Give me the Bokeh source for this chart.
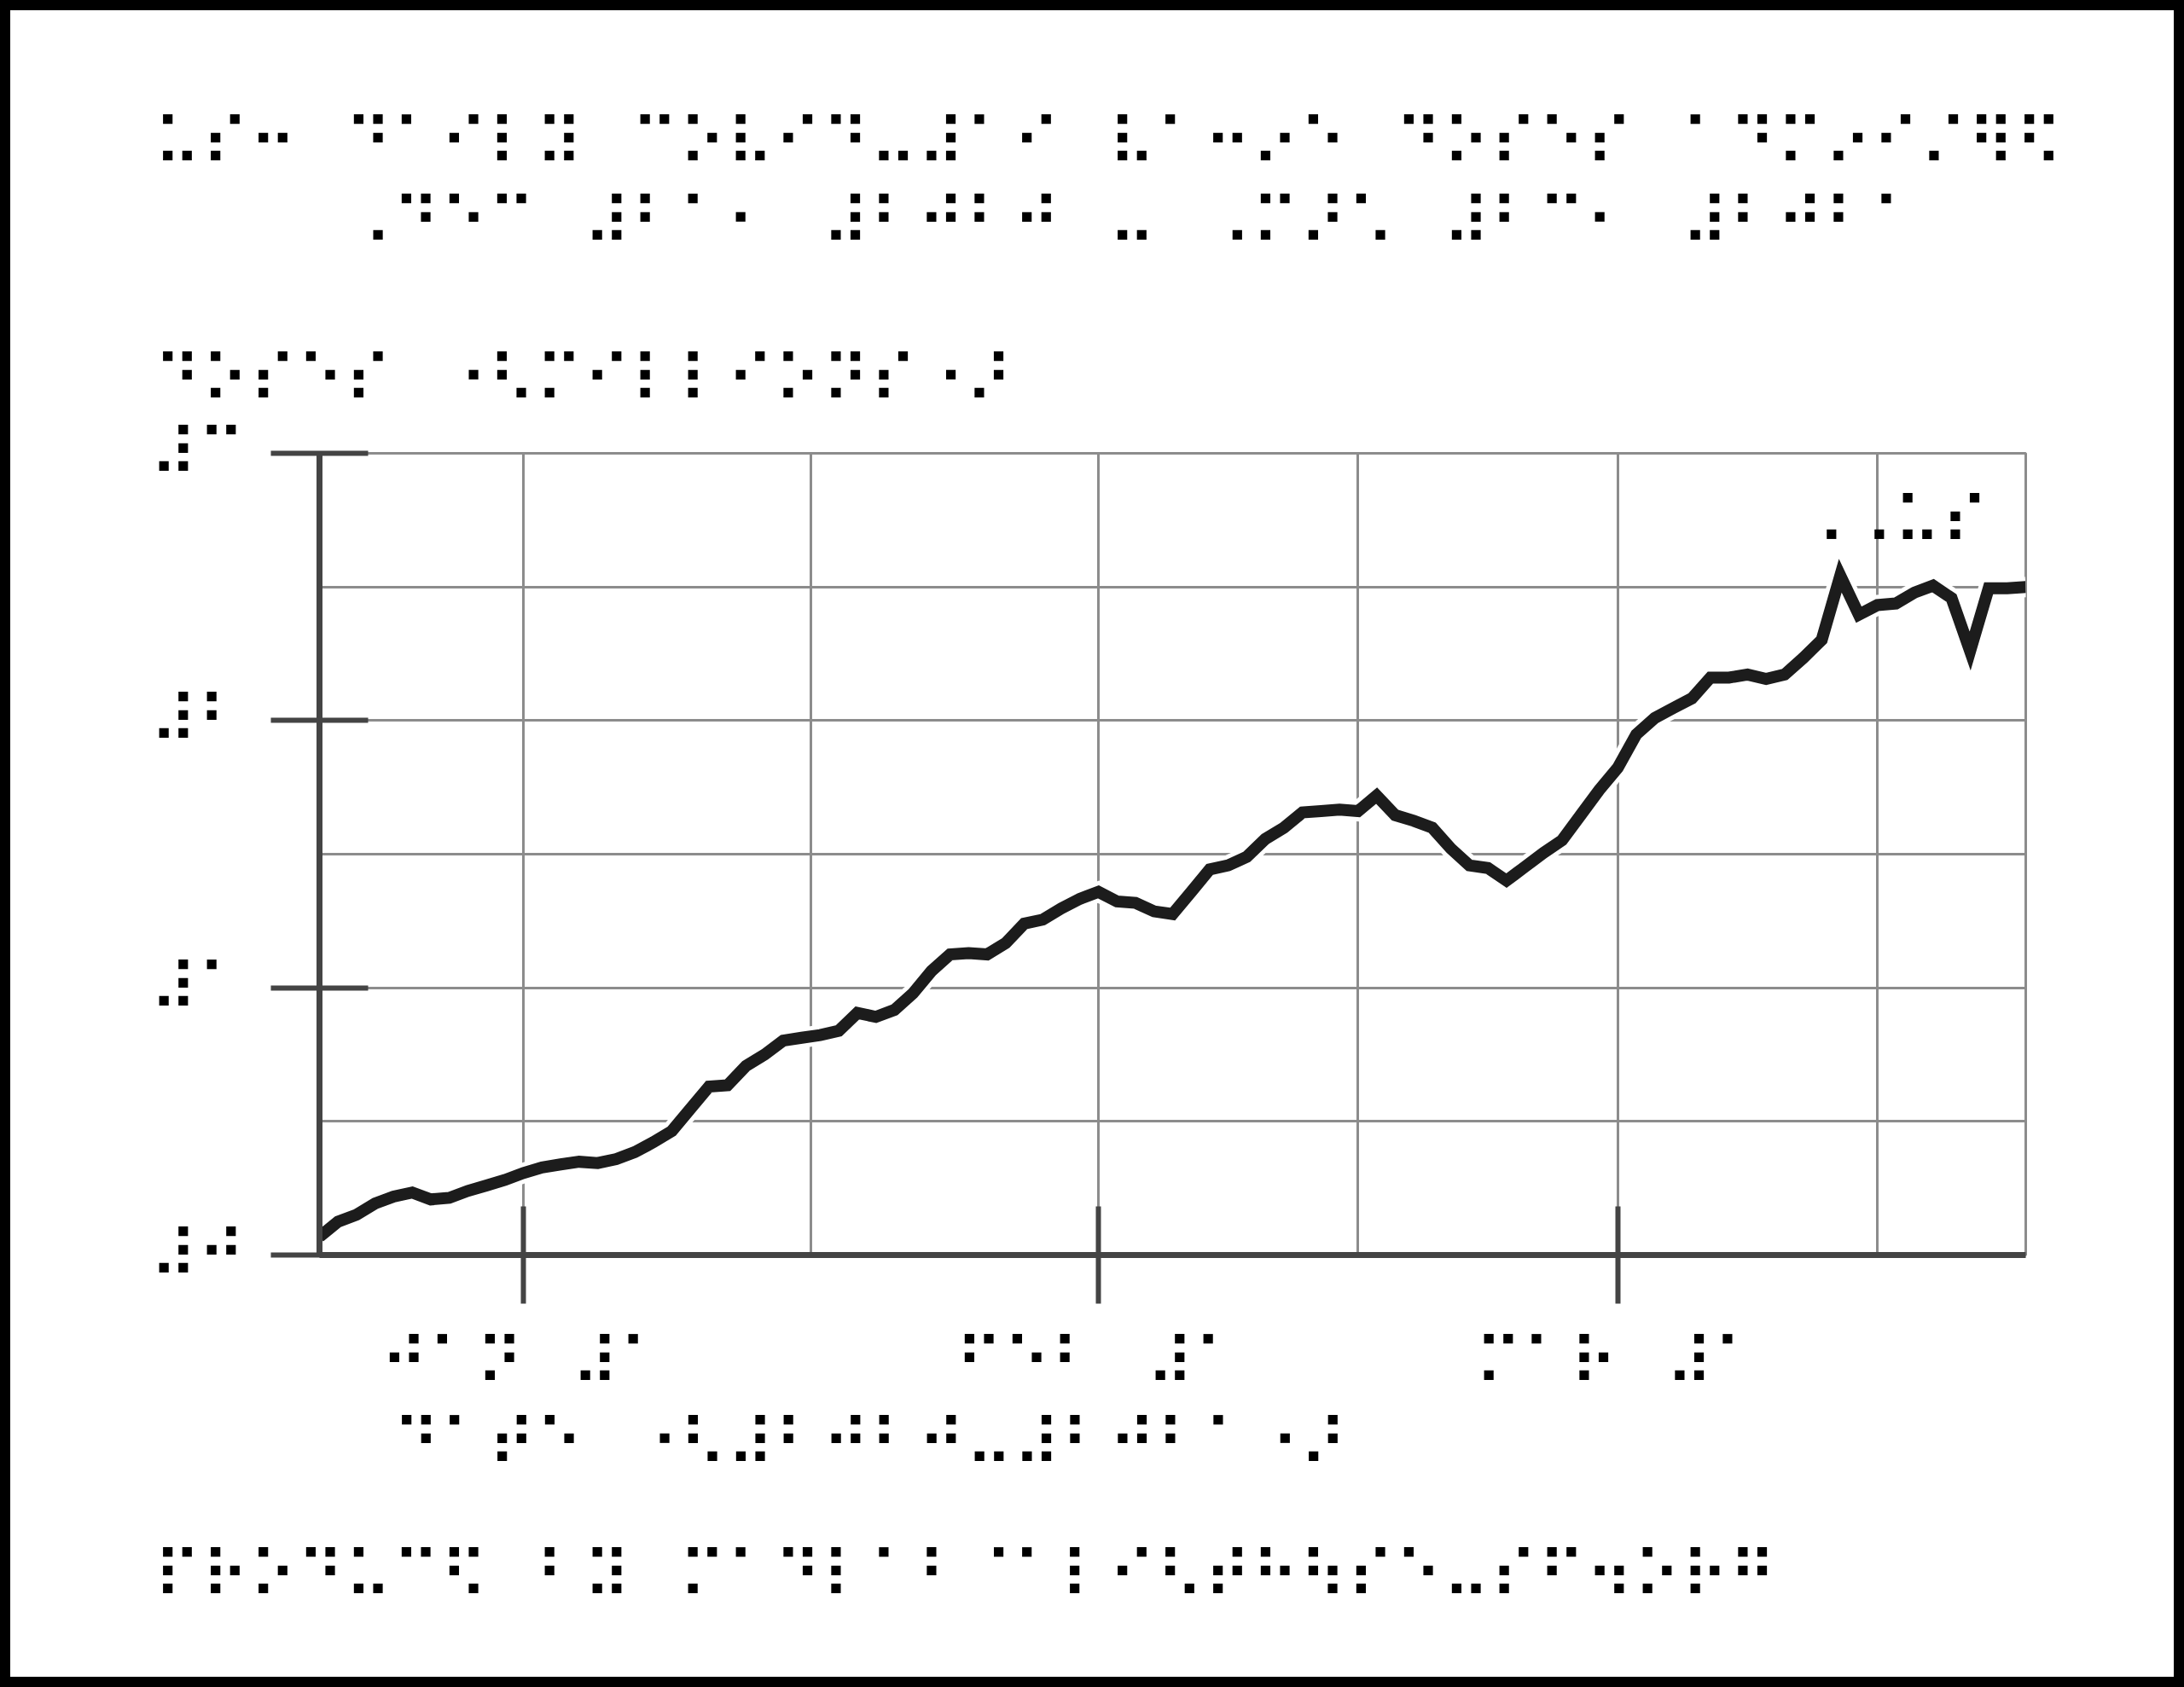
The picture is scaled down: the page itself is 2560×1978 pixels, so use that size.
import pandas as pd
from bokeh.plotting import figure
from bokeh.models import Range1d, FixedTicker, Label, ColumnDataSource, Title
from bokeh.embed import file_html
from bokeh.resources import INLINE

B = "\u2800"  # braille blank cell used as word space

# ---------------- data ----------------
title_line1 = B.join(["⠥⠎⠒", "⠙⠁⠊⠇⠽", "⠉⠕⠧⠊⠙⠤⠼⠁⠊", "⠧⠁⠒⠔⠑", "⠙⠕⠎⠑⠎", "⠁⠙⠍⠔⠊⠌⠻⠫"])
title_line2 = B.join(["⠠⠙⠑⠉", "⠼⠃⠁⠂", "⠼⠃⠚⠃⠚", "⠤", "⠠⠍⠜⠡", "⠼⠃⠉⠂", "⠼⠃⠚⠃⠁"])
y_title = B.join(["⠙⠕⠎⠑⠎", "⠐⠣⠍⠊⠇⠇⠊⠕⠝⠎⠐⠜"])
x_title = B.join(["⠙⠁⠞⠑", "⠐⠣⠼⠃⠚⠃⠚⠤⠼⠃⠚⠃⠁⠐⠜"])
footer = B.join(["⠏⠗⠕⠙⠥⠉⠫", "⠃⠽", "⠍⠁⠙⠇⠁⠃⠈⠁⠇⠊⠣⠞⠓⠳⠎⠑⠤⠎⠋⠲⠕⠗⠛"])
series_name = "⠠⠠⠥⠎"

y_ticks = [0, 1, 2, 3]
y_tick_labels = ["⠼⠚", "⠼⠁", "⠼⠃", "⠼⠉"]
y_minor = [0.5, 1.5, 2.5]

x_tick_dates = ["2021-01-01", "2021-02-01", "2021-03-01"]
x_tick_labels = ["⠚⠁⠝" + B + "⠼⠁", "⠋⠑⠃" + B + "⠼⠁", "⠍⠁⠗" + B + "⠼⠁"]
x_minor_dates = ["2021-01-16 12:00", "2021-02-15", "2021-03-15"]

start_date = "2020-12-21"
end_date = "2021-03-23"
doses_millions = [
    0.068, 0.125, 0.151, 0.193, 0.219, 0.234, 0.208, 0.214, 0.240, 0.260,
    0.281, 0.307, 0.328, 0.339, 0.349, 0.344, 0.359, 0.385, 0.422, 0.464,
    0.547, 0.630, 0.635, 0.708, 0.750, 0.802, 0.813, 0.823, 0.839, 0.906,
    0.891, 0.917, 0.979, 1.063, 1.125, 1.130, 1.125, 1.167, 1.240, 1.255,
    1.297, 1.333, 1.359, 1.323, 1.318, 1.286, 1.276, 1.359, 1.443, 1.458,
    1.490, 1.557, 1.599, 1.656, 1.661, 1.667, 1.661, 1.719, 1.646, 1.625,
    1.599, 1.521, 1.458, 1.448, 1.401, 1.453, 1.505, 1.552, 1.646, 1.740,
    1.823, 1.948, 2.010, 2.047, 2.083, 2.161, 2.161, 2.172, 2.156, 2.172,
    2.234, 2.302, 2.542, 2.396, 2.432, 2.438, 2.479, 2.505, 2.458, 2.260,
    2.495, 2.495, 2.500,
]

# ---------------- layout ----------------
OFF = 12                      # black page border drawn as a CSS outline in the margin
W, H = 2560 - 2 * OFF, 1978 - 2 * OFF
FL, FR, FT, FB = 374 - OFF, 2374 - OFF, 531 - OFF, 1471 - OFF   # frame edges in canvas px
FONT = "DejaVu Sans"
FS = 76.4
FSS = f"{FS}px"

def ms(d):
    return pd.Timestamp(d).value / 1e6

x0, x1 = ms(start_date), ms(end_date)
y0, y1 = 0.0, 3.0

def xd(px):
    return x0 + (px - OFF - FL) / (FR - FL) * (x1 - x0)

def yd(py):
    return y0 + (FB - (py - OFF)) / (FB - FT) * (y1 - y0)

dates = pd.date_range(start_date, periods=len(doses_millions), freq="D")
src = ColumnDataSource(dict(date=dates, v=doses_millions))

p = figure(width=W, height=H, x_axis_type="datetime",
           x_range=Range1d(x0, x1), y_range=Range1d(y0, y1),
           output_backend="svg", toolbar_location=None,
           min_border_left=FL, min_border_right=W - FR,
           min_border_top=FT, min_border_bottom=H - FB)
p.styles = {"margin": f"{OFF}px", "outline": f"{OFF}px solid black"}
p.background_fill_color = "white"
p.border_fill_color = "white"
p.outline_line_color = "#8c8c8c"
p.outline_line_width = 3

GRID = "#8c8c8c"
AX = "#444444"

# y axis
yax = p.yaxis[0]
yax.ticker = FixedTicker(ticks=y_ticks, minor_ticks=y_minor)
yax.major_label_overrides = {t: l for t, l in zip(y_ticks, y_tick_labels)}
yax.axis_line_color = AX
yax.axis_line_width = 7
yax.major_tick_line_color = AX
yax.major_tick_line_width = 6
yax.major_tick_in = 57
yax.major_tick_out = 57
yax.minor_tick_line_color = None
yax.major_label_text_font = FONT
yax.major_label_text_font_size = FSS
yax.major_label_text_color = "black"
yax.major_label_standoff = 30

# x axis
xt = [ms(d) for d in x_tick_dates]
xax = p.xaxis[0]
xax.ticker = FixedTicker(ticks=xt, minor_ticks=[ms(d) for d in x_minor_dates])
xax.major_label_overrides = {t: l for t, l in zip(xt, x_tick_labels)}
xax.axis_line_color = AX
xax.axis_line_width = 7
xax.major_tick_line_color = AX
xax.major_tick_line_width = 6
xax.major_tick_in = 57
xax.major_tick_out = 57
xax.minor_tick_line_color = None
xax.major_label_text_font = FONT
xax.major_label_text_font_size = FSS
xax.major_label_text_color = "black"
xax.major_label_standoff = 24

for g in (p.xgrid[0], p.ygrid[0]):
    g.grid_line_color = GRID
    g.grid_line_width = 3
    g.minor_grid_line_color = GRID
    g.minor_grid_line_width = 3

# data line with white casing
p.line("date", "v", source=src, line_color="white", line_width=24, line_join="miter")
p.line("date", "v", source=src, line_color="#1c1c1c", line_width=14, line_join="miter")

# series label (inside the frame)
p.add_layout(Label(x=xd(2107), y=yd(611), text=series_name, text_font=FONT,
                   text_font_size=FSS, text_color="black",
                   text_align="left", text_baseline="middle"))

def add_title(txt, side, offset, standoff, line_height=1.0):
    p.add_layout(Title(text=txt, align="left", offset=offset, standoff=standoff,
                       text_font=FONT, text_font_size=FSS, text_color="black",
                       text_font_style="normal", text_line_height=line_height), side)

# above: first added sits nearest the frame
add_title(y_title, "above", -194.5, 83.6)
add_title(title_line1 + "\n" + B * 4 + title_line2, "above", -194.5, 102.6, 1.05)
# below: after the x axis
add_title(x_title, "below", 85.5, 3)
add_title(footer, "below", -194.5, 125)

open("out.html", "w").write(file_html(p, INLINE))
